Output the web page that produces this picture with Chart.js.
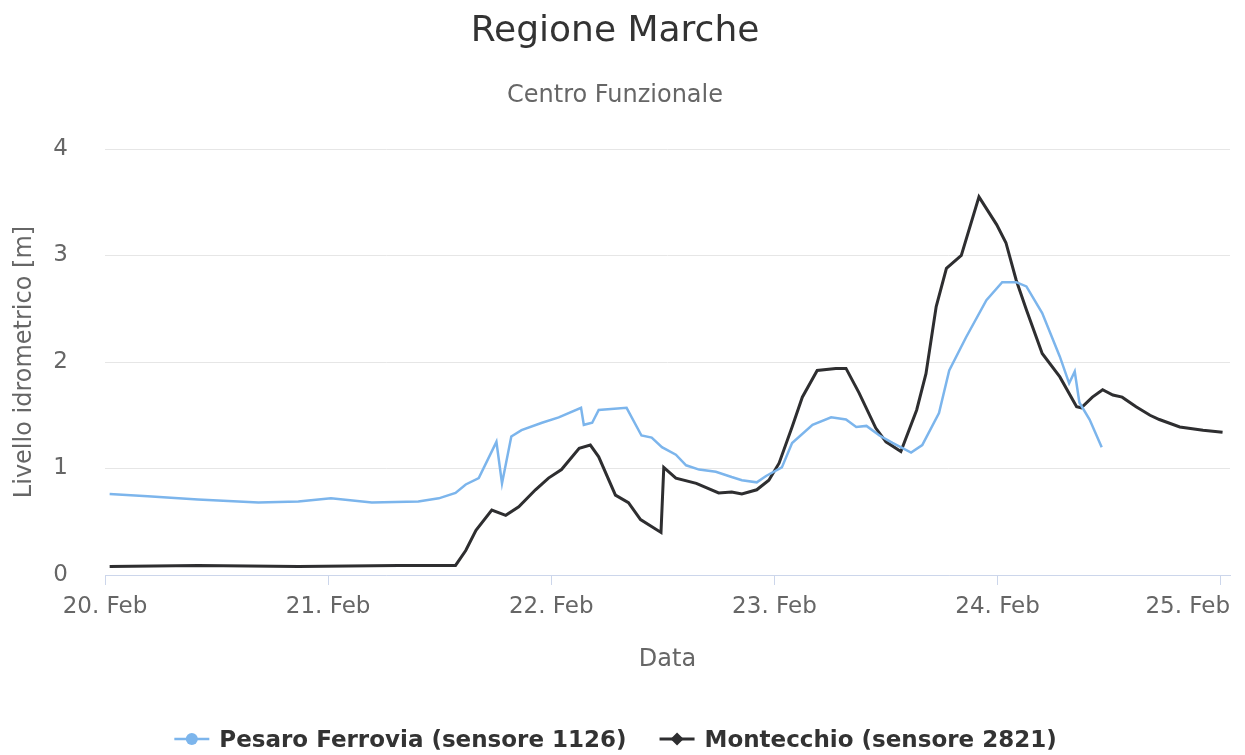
<!DOCTYPE html>
<html>
<head>
<meta charset="utf-8">
<script src="https://cdn.jsdelivr.net/npm/chart.js@4.4.1/dist/chart.umd.min.js"></script>
<style>
  html, body { margin: 0; padding: 0; background: #fff; }
  #wrap { width: 1245px; height: 755px; }
</style>
</head>
<body>
<div id="wrap"><canvas id="chart"></canvas></div>
<script>
// hours since 20 Feb 00:00
const pesaroHours = [0.5, 4.6, 10.0, 16.5, 20.8, 24.3, 28.7, 33.7, 35.9, 37.7, 38.8, 40.2, 42.1, 42.7, 43.7, 44.8, 47.0, 48.8, 51.2, 51.5, 52.4, 53.1, 56.1, 57.7, 58.8, 59.9, 61.4, 62.5, 63.9, 65.7, 67.4, 68.5, 70.1, 71.1, 72.8, 73.9, 76.1, 78.1, 79.7, 80.8, 81.9, 83.3, 84.7, 86.7, 87.9, 89.7, 90.8, 92.6, 94.8, 96.5, 98.0, 99.1, 100.8, 102.7, 103.7, 104.3, 104.8, 105.9, 107.2];
const pesaroLevels = [0.76, 0.74, 0.71, 0.68, 0.69, 0.72, 0.68, 0.69, 0.72, 0.77, 0.85, 0.91, 1.25, 0.86, 1.30, 1.36, 1.43, 1.48, 1.57, 1.41, 1.43, 1.55, 1.57, 1.31, 1.29, 1.20, 1.13, 1.03, 0.99, 0.97, 0.92, 0.89, 0.87, 0.93, 1.01, 1.24, 1.41, 1.48, 1.46, 1.39, 1.40, 1.31, 1.24, 1.15, 1.22, 1.52, 1.92, 2.23, 2.58, 2.75, 2.75, 2.71, 2.46, 2.05, 1.80, 1.91, 1.62, 1.46, 1.20];

const montecchioHours = [0.5, 10.0, 20.8, 31.6, 35.9, 37.7, 38.8, 39.9, 41.6, 43.1, 44.5, 46.3, 47.7, 49.1, 51.0, 52.2, 53.1, 54.9, 56.3, 57.6, 59.8, 60.1, 61.4, 63.6, 66.0, 67.4, 68.5, 70.1, 71.4, 72.5, 73.9, 75.0, 76.6, 78.6, 79.7, 81.1, 82.9, 84.0, 85.6, 87.3, 88.3, 89.4, 90.5, 92.1, 94.0, 95.9, 96.9, 98.0, 99.1, 100.8, 102.7, 104.5, 105.0, 106.2, 107.3, 108.4, 109.4, 110.9, 112.4, 113.4, 115.6, 118.1, 120.2];
const montecchioLevels = [0.08, 0.09, 0.08, 0.09, 0.09, 0.09, 0.23, 0.42, 0.61, 0.56, 0.64, 0.80, 0.91, 0.99, 1.19, 1.22, 1.11, 0.75, 0.68, 0.52, 0.40, 1.01, 0.91, 0.86, 0.77, 0.78, 0.76, 0.80, 0.89, 1.05, 1.39, 1.67, 1.92, 1.94, 1.94, 1.71, 1.38, 1.25, 1.16, 1.55, 1.89, 2.52, 2.88, 3.00, 3.55, 3.29, 3.12, 2.77, 2.49, 2.08, 1.86, 1.58, 1.57, 1.67, 1.74, 1.69, 1.67, 1.58, 1.50, 1.46, 1.39, 1.36, 1.34];

const dayLabels = ['20. Feb', '21. Feb', '22. Feb', '23. Feb', '24. Feb', '25. Feb'];
const yTicks = [0, 1, 2, 3, 4];

const toPoints = (xs, ys) => xs.map((x, i) => ({ x: x, y: ys[i] }));
const FONT = "'DejaVu Sans', sans-serif";
const TICK_FONT = 23;

// last day label is kept inside the canvas (right aligned), like highcharts does
const lastTickLabel = {
  id: 'lastTickLabel',
  afterDraw(chart) {
    const xs = chart.scales.x;
    const i = dayLabels.length - 1;
    const c = chart.ctx;
    c.save();
    c.font = TICK_FONT + 'px ' + FONT;
    c.fillStyle = '#666666';
    c.textBaseline = 'middle';
    c.textAlign = 'right';
    const w = c.measureText(dayLabels[i]).width;
    const px = Math.min(xs.getPixelForValue(i * 24) + w / 2, chart.chartArea.right);
    c.fillText(dayLabels[i], px, xs.top + 10 + 8 + TICK_FONT * 0.6);
    c.restore();
  },
};

// highcharts-style legend: line + marker, then bold label
const bottomLegend = {
  id: 'bottomLegend',
  afterDraw(chart) {
    const c = chart.ctx;
    const sets = chart.data.datasets;
    const symW = 35, gap = 10, itemGap = 33, y = 741;
    c.save();
    c.font = 'bold 23px ' + FONT;
    c.textBaseline = 'middle';
    const widths = sets.map((d) => c.measureText(d.label).width);
    let total = 0;
    widths.forEach((w, i) => { total += symW + gap + w + (i ? itemGap : 0); });
    let x = chart.width / 2 - 7 - total / 2;
    sets.forEach((d, i) => {
      const cy = y - 2;
      c.strokeStyle = d.borderColor;
      c.fillStyle = d.borderColor;
      c.lineWidth = d.borderWidth;
      c.beginPath();
      c.moveTo(x, cy);
      c.lineTo(x + symW, cy);
      c.stroke();
      const mx = x + symW / 2;
      c.beginPath();
      if (d.pointStyle === 'circle') {
        c.arc(mx, cy, 6, 0, Math.PI * 2);
      } else {
        c.moveTo(mx, cy - 6.5);
        c.lineTo(mx + 6.5, cy);
        c.lineTo(mx, cy + 6.5);
        c.lineTo(mx - 6.5, cy);
        c.closePath();
      }
      c.fill();
      c.fillStyle = '#333333';
      c.textAlign = 'left';
      c.fillText(d.label, x + symW + gap, y);
      x += symW + gap + widths[i] + itemGap;
    });
    c.restore();
  },
};

const ctx = document.getElementById('chart').getContext('2d');
new Chart(ctx, {
  type: 'line',
  data: {
    datasets: [
      {
        label: 'Pesaro Ferrovia (sensore 1126)',
        data: toPoints(pesaroHours, pesaroLevels),
        borderColor: '#7cb5ec',
        backgroundColor: '#7cb5ec',
        borderWidth: 2.5,
        pointRadius: 0,
        pointStyle: 'circle',
        tension: 0,
      },
      {
        label: 'Montecchio (sensore 2821)',
        data: toPoints(montecchioHours, montecchioLevels),
        borderColor: '#2e2e30',
        backgroundColor: '#2e2e30',
        borderWidth: 3,
        pointRadius: 0,
        pointStyle: 'rectRot',
        tension: 0,
      },
    ],
  },
  plugins: [lastTickLabel, bottomLegend],
  options: {
    responsive: true,
    maintainAspectRatio: false,
    animation: false,
    layout: { padding: { left: 0, right: 15, top: 0, bottom: 60 } },
    scales: {
      x: {
        type: 'linear',
        min: 0,
        max: 121,
        afterFit: (axis) => { axis.height = 120; axis.paddingRight = 0; },
        grid: { drawOnChartArea: false, drawTicks: true, tickLength: 10, color: '#ccd6eb' },
        border: { color: '#ccd6eb' },
        ticks: {
          stepSize: 24,
          includeBounds: false,
          maxRotation: 0,
          autoSkip: false,
          padding: 8,
          color: '#666666',
          font: { family: FONT, size: TICK_FONT },
          callback: (v) => {
            const i = Math.round(v / 24);
            return i < dayLabels.length - 1 ? dayLabels[i] : '';
          },
        },
        title: {
          display: true,
          text: 'Data',
          color: '#666666',
          font: { family: FONT, size: 24 },
          padding: { top: 20, bottom: 21 },
        },
      },
      y: {
        min: 0,
        max: 4,
        afterFit: (axis) => { axis.width = 105; },
        grid: { color: '#e6e6e6', drawTicks: false },
        border: { display: false },
        afterBuildTicks: (axis) => { axis.ticks = yTicks.map((v) => ({ value: v })); },
        ticks: {
          padding: 37,
          color: '#666666',
          font: { family: FONT, size: TICK_FONT },
        },
        title: {
          display: true,
          text: 'Livello idrometrico [m]',
          color: '#666666',
          font: { family: FONT, size: 24 },
          padding: { top: 10.6, bottom: 10 },
        },
      },
    },
    plugins: {
      title: {
        display: true,
        text: 'Regione Marche',
        color: '#333333',
        font: { family: FONT, size: 36, weight: 'normal' },
        padding: { top: 10.4, bottom: 0 },
      },
      subtitle: {
        display: true,
        text: 'Centro Funzionale',
        color: '#666666',
        font: { family: FONT, size: 24, weight: 'normal' },
        padding: { top: 28, bottom: 38.6 },
      },
      legend: { display: false },
      tooltip: { enabled: false },
    },
  },
});
</script>
</body>
</html>
